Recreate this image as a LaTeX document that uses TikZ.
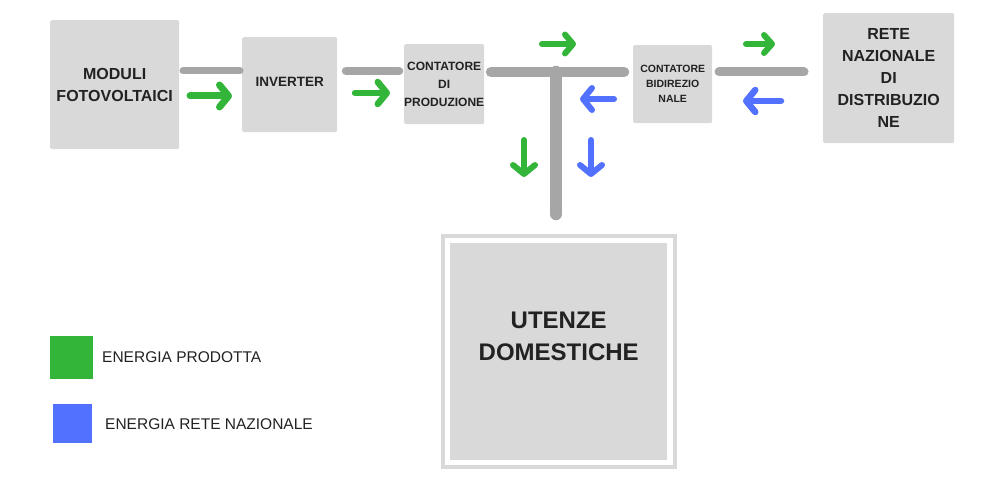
\documentclass[tikz,border=0pt]{standalone}
\usepackage{fontspec}
\setmainfont{Liberation Sans}
\usetikzlibrary{arrows.meta}
\definecolor{boxgray}{HTML}{D9D9D9}
\definecolor{wiregray}{HTML}{A6A6A6}
\definecolor{egreen}{HTML}{33B53A}
\definecolor{eblue}{HTML}{5271FF}
\definecolor{txt}{HTML}{222222}
\tikzset{
  blk/.style={fill=boxgray, draw=none, rounded corners=1.5pt, inner sep=0pt, anchor=north west,
     align=center, text=txt, font=\bfseries},
  wire/.style={draw=wiregray, line cap=round},
  flow/.style={line width=6pt, line cap=round, line join=round,
     -{Straight Barb[length=9pt, width=22pt, round]}},
  gflow/.style={flow, draw=egreen},
  bflow/.style={flow, draw=eblue},
  legtxt/.style={anchor=west, text=txt, font=\fontsize{15.5}{18}\selectfont, inner sep=0pt},
}
\begin{document}
\begin{tikzpicture}[x=1pt,y=-1pt]
\useasboundingbox (0,0) rectangle (1000,500);
% boxes
\node[blk, minimum width=129pt, minimum height=129pt, font=\bfseries\fontsize{16}{22}\selectfont] (mod) at (50,20) {MODULI\\FOTOVOLTAICI};
\node[blk, minimum width=95pt, minimum height=95pt, font=\bfseries\fontsize{13.5}{16}\selectfont, text depth=6pt] (inv) at (242,37) {INVERTER};
\node[blk, minimum width=80pt, minimum height=80pt, font=\bfseries\fontsize{12}{18}\selectfont] (cp) at (404,44) {CONTATORE\\DI\\PRODUZIONE};
\node[blk, minimum width=79pt, minimum height=78pt, font=\bfseries\fontsize{10.5}{15}\selectfont] (cb) at (633,45) {CONTATORE\\BIDIREZIO\\NALE};
\node[blk, minimum width=131pt, minimum height=130pt, font=\bfseries\fontsize{16}{22}\selectfont] (rete) at (823,13) {RETE\\NAZIONALE\\DI\\DISTRIBUZIO\\NE};
% utenze
\node[draw=boxgray, line width=4pt, fill=white, anchor=north west, minimum width=232pt, minimum height=231pt, inner sep=0pt] (frame) at (441,234) {};
\node[blk, minimum width=217pt, minimum height=217pt, rounded corners=0pt, font=\bfseries\fontsize{24}{32}\selectfont, text depth=30pt] (ut) at (450,243) {UTENZE\\DOMESTICHE};
% wires
\coordinate (tj) at (556,72);
\coordinate (tl) at (491,72);
\coordinate (tr) at (624,72);
\coordinate (tb) at (556,214);
\coordinate (w1a) at (183,71); \coordinate (w1b) at (240,71);
\coordinate (w2a) at (346,71); \coordinate (w2b) at (399,71);
\coordinate (w3a) at (719,72); \coordinate (w3b) at (804,72);
\draw[wire, line width=7pt] (w1a) -- (w1b);
\draw[wire, line width=8.5pt] (w2a) -- (w2b);
\draw[wire, line width=10.5pt] (tl) -- (tr);
\draw[wire, line width=12.5pt] (tj) -- (tb);
\draw[wire, line width=9pt] (w3a) -- (w3b);
% flow arrows
\coordinate (g1a) at (190,96); \coordinate (g1b) at (232,96);
\coordinate (g2a) at (355,93); \coordinate (g2b) at (390,93);
\coordinate (g3a) at (542,44); \coordinate (g3b) at (576,44);
\coordinate (g4a) at (524,140); \coordinate (g4b) at (524,177);
\coordinate (g5a) at (746,44); \coordinate (g5b) at (775,44);
\coordinate (b1a) at (614,99); \coordinate (b1b) at (580,99);
\coordinate (b2a) at (591,140); \coordinate (b2b) at (591,177);
\coordinate (b3a) at (781,101); \coordinate (b3b) at (743,101);
\draw[gflow, line width=7pt] (g1a) -- (g1b);
\draw[gflow, line width=6.5pt] (g2a) -- (g2b);
\draw[gflow, -{Straight Barb[length=8pt, width=19pt, round]}] (g3a) -- (g3b);
\draw[gflow] (g4a) -- (g4b);
\draw[gflow, -{Straight Barb[length=8pt, width=18pt, round]}] (g5a) -- (g5b);
\draw[bflow] (b1a) -- (b1b);
\draw[bflow] (b2a) -- (b2b);
\draw[bflow, line width=6.5pt] (b3a) -- (b3b);
% legend
\node[fill=egreen, anchor=north west, minimum width=43pt, minimum height=43pt, inner sep=0pt] (lg) at (50,336) {};
\node[fill=eblue, anchor=north west, minimum width=39pt, minimum height=39pt, inner sep=0pt] (lb) at (53,404) {};
\node[legtxt] (lgt) at (102,357) {ENERGIA PRODOTTA};
\node[legtxt] (lbt) at (105,424) {ENERGIA RETE NAZIONALE};
\end{tikzpicture}
\end{document}
